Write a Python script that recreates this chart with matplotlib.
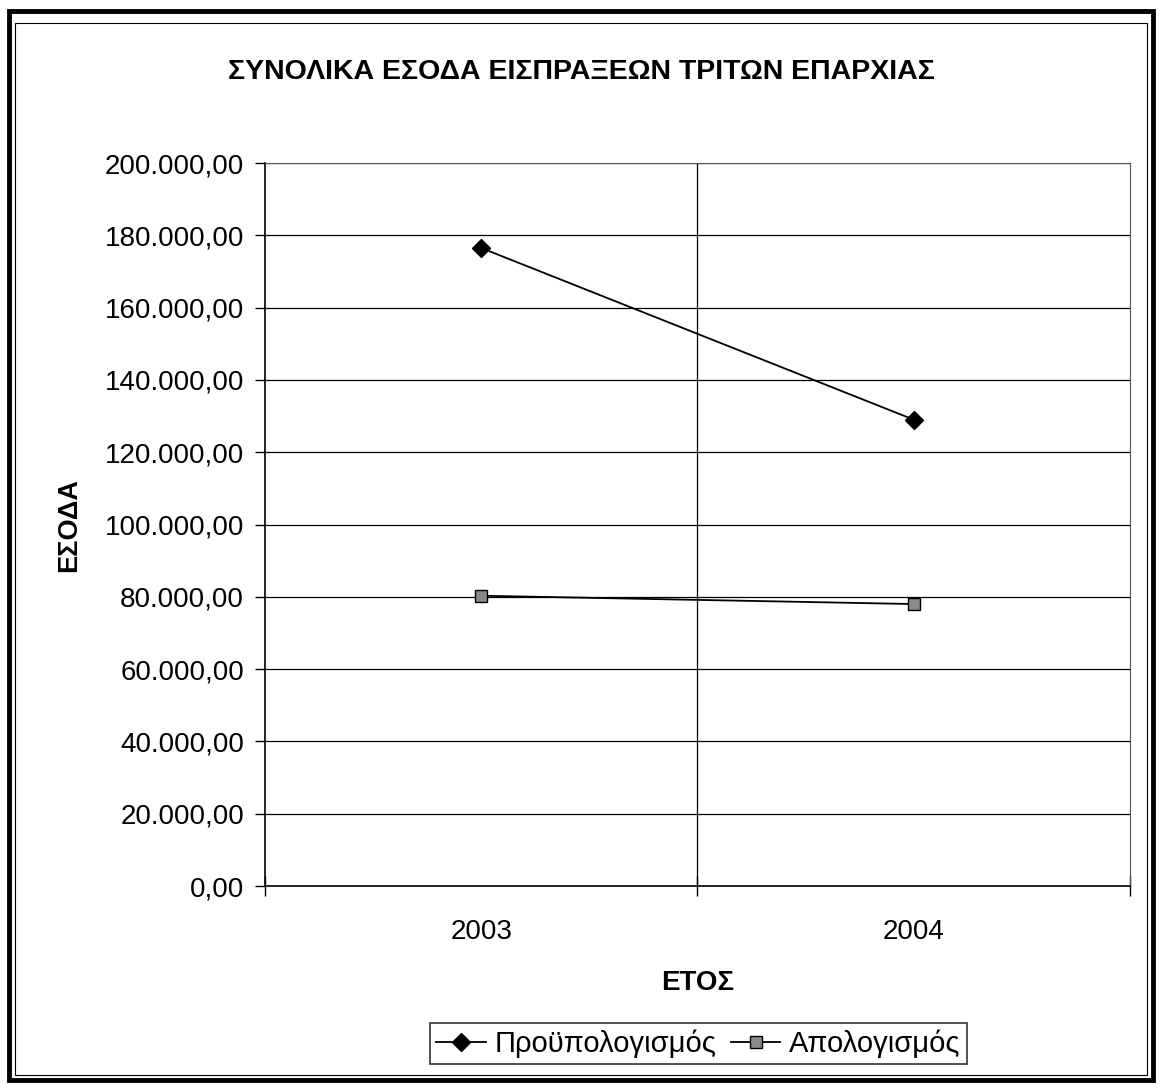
import matplotlib.pyplot as plt
from matplotlib.patches import Rectangle
from matplotlib.ticker import FuncFormatter

plt.rcParams['font.family'] = ['Liberation Sans', 'DejaVu Sans']

years = ['2003', '2004']
budget = [176500, 129000]      # Προϋπολογισμός
actual = [80300, 78000]        # Απολογισμός

fig = plt.figure(figsize=(11.62, 10.89), dpi=100)
ax = fig.add_axes([0.228, 0.1864, 0.7445, 0.6639])

x = [0.5, 1.5]
ax.plot(x, budget, color='black', lw=1.3, marker='D', markersize=9,
        markerfacecolor='black', markeredgecolor='black', label='Προϋπολογισμός')
ax.plot(x, actual, color='black', lw=1.3, marker='s', markersize=9,
        markerfacecolor='#8a8a8a', markeredgecolor='black', label='Απολογισμός')

ax.set_xlim(0, 2)
ax.set_ylim(0, 200000)
ax.set_yticks(range(0, 200001, 20000))


def fmt(v, pos):
    s = f'{v:,.2f}'
    return s.replace(',', 'X').replace('.', ',').replace('X', '.')


ax.yaxis.set_major_formatter(FuncFormatter(fmt))
ax.tick_params(axis='y', direction='out', length=7, width=1, labelsize=20, pad=8)

ax.set_xticks([0, 1, 2])
ax.set_xticklabels(['', '', ''])
ax.set_xticks(x, minor=True)
ax.set_xticklabels(years, minor=True)
ax.tick_params(axis='x', which='major', direction='inout', length=14, width=1)
ax.tick_params(axis='x', which='minor', length=0, labelsize=20, pad=24)

ax.grid(axis='y', color='black', lw=0.9)
ax.axvline(1, color='black', lw=0.9)
ax.set_axisbelow(True)

for side in ['top', 'right']:
    ax.spines[side].set_linewidth(0.8)
    ax.spines[side].set_color('#555555')
ax.spines['left'].set_linewidth(1.2)
ax.spines['bottom'].set_linewidth(1.2)

ax.set_ylabel('ΕΣΟΔΑ', fontsize=19.5, fontweight='bold', labelpad=16)
ax.set_xlabel('ΕΤΟΣ', fontsize=20, fontweight='bold', labelpad=18)

fig.text(0.5, 0.934, 'ΣΥΝΟΛΙΚΑ ΕΣΟΔΑ ΕΙΣΠΡΑΞΕΩΝ ΤΡΙΤΩΝ ΕΠΑΡΧΙΑΣ',
         ha='center', va='center', fontsize=20.5, fontweight='bold')

leg = fig.legend(loc='center', bbox_to_anchor=(0.601, 0.0418), ncol=2,
                 fontsize=21, frameon=True, fancybox=False, edgecolor='black',
                 handlelength=1.7, columnspacing=0.5, handletextpad=0.3,
                 borderpad=0.2, borderaxespad=0)
leg.get_frame().set_linewidth(1.2)

fig.patches.append(Rectangle((0.008, 0.008), 0.984, 0.982, transform=fig.transFigure,
                             fill=False, edgecolor='black', lw=3.5))
fig.patches.append(Rectangle((0.013, 0.013), 0.974, 0.966, transform=fig.transFigure,
                             fill=False, edgecolor='black', lw=0.8))

fig.savefig('out.png', dpi=100)
